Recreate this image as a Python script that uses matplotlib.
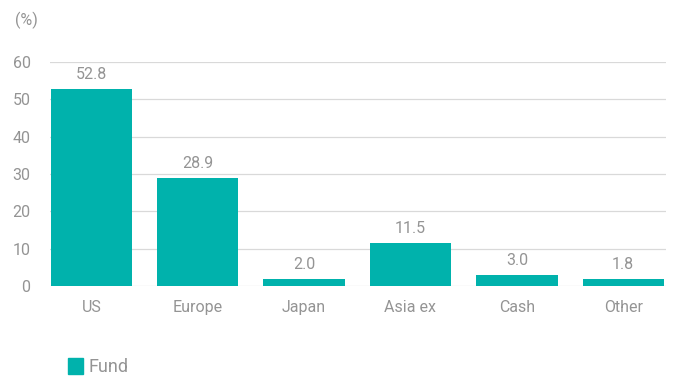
import matplotlib.pyplot as plt
from matplotlib.patches import Patch

plt.rcParams["font.family"] = ["Roboto", "DejaVu Sans"]

regions = ["US", "Europe", "Japan", "Asia ex", "Cash", "Other"]
weights = [52.8, 28.9, 2.0, 11.5, 3.0, 1.8]
y_ticks = [0, 10, 20, 30, 40, 50, 60]

TEAL = "#00B2AC"
TEXT_GREY = "#949494"
GRID_GREY = "#d9d9d9"

fig = plt.figure(figsize=(6.8, 3.81), dpi=100)
ax = fig.add_axes([0.0735, 0.249, 0.9055, 0.588])

x = range(len(regions))
bars = ax.bar(x, weights, width=0.765, color=TEAL, zorder=3)

for rect, val in zip(bars, weights):
    ax.annotate(
        f"{val:.1f}",
        (rect.get_x() + rect.get_width() / 2, rect.get_height()),
        textcoords="offset points",
        xytext=(0, 5),
        ha="center",
        va="bottom",
        fontsize=11.5,
        color=TEXT_GREY,
    )

ax.set_xlim(-0.39, 5.40)
ax.set_ylim(0, 60)
ax.set_yticks(y_ticks)
ax.set_xticks(list(x))
ax.set_xticklabels(regions)
ax.grid(axis="y", color=GRID_GREY, linewidth=0.9, zorder=0)
ax.tick_params(axis="both", length=0, labelsize=11.5, colors=TEXT_GREY)
ax.tick_params(axis="x", pad=10)
ax.tick_params(axis="y", pad=14)
for spine in ax.spines.values():
    spine.set_visible(False)

fig.text(15 / 680, 1 - 20 / 381, "(%)", fontsize=11.5, color=TEXT_GREY, va="center")

fig.legend(
    handles=[Patch(color=TEAL, label="Fund")],
    loc="center left",
    bbox_to_anchor=(68 / 680, 1 - 367 / 381),
    borderaxespad=0,
    borderpad=0,
    frameon=False,
    fontsize=13,
    labelcolor=TEXT_GREY,
    handlelength=0.85,
    handleheight=0.95,
    handletextpad=0.3,
)

fig.savefig("out.png", dpi=100)
